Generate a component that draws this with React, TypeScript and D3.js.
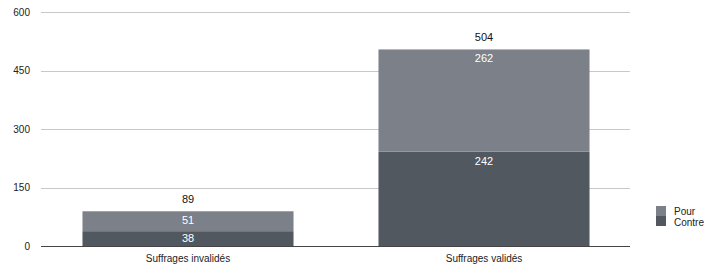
import { useEffect, useRef } from 'react';
import * as d3 from 'd3';

const categories = ['Suffrages invalidés', 'Suffrages validés'];
const contre = [38, 242];
const pour = [51, 262];
const totals = [89, 504];
const yTicks = [0, 150, 300, 450, 600];
const seriesNames = ['Pour', 'Contre'];
const seriesColors = ['#7b8089', '#525860'];

const App = () => {
  const ref = useRef<SVGSVGElement>(null);

  useEffect(() => {
    document.body.style.margin = '0';
    const svg = d3.select(ref.current);
    svg.selectAll('*').remove();

    const font = '"Liberation Sans", Arial, Helvetica, sans-serif';

    const x = d3.scaleBand().domain(categories).range([40, 632]).padding(0);
    const y = d3.scaleLinear().domain([0, 600]).range([246, 12]);
    const barW = x.bandwidth() * 0.713;

    // grid lines
    svg.append('g')
      .selectAll('line')
      .data(yTicks.filter(d => d > 0))
      .enter().append('line')
      .attr('x1', 41)
      .attr('x2', 630)
      .attr('y1', d => Math.round(y(d)) + 0.5)
      .attr('y2', d => Math.round(y(d)) + 0.5)
      .attr('stroke', '#c8c8c8')
      .attr('stroke-width', 1);

    // y tick labels
    svg.append('g')
      .selectAll('text')
      .data(yTicks)
      .enter().append('text')
      .attr('x', 30)
      .attr('y', d => y(d))
      .attr('dy', '0.35em')
      .attr('text-anchor', 'end')
      .attr('font-family', font)
      .attr('font-size', 10)
      .attr('fill', '#222')
      .text(d => d);

    const rows = categories.map((c, i) => ({ c, contre: contre[i], pour: pour[i], total: totals[i] }));

    // contre (bottom)
    svg.append('g')
      .selectAll('rect')
      .data(rows)
      .enter().append('rect')
      .attr('x', d => x(d.c)! + (x.bandwidth() - barW) / 2)
      .attr('width', barW)
      .attr('y', d => y(d.contre))
      .attr('height', d => y(0) - y(d.contre))
      .attr('fill', seriesColors[1]);

    // pour (top)
    svg.append('g')
      .selectAll('rect')
      .data(rows)
      .enter().append('rect')
      .attr('x', d => x(d.c)! + (x.bandwidth() - barW) / 2)
      .attr('width', barW)
      .attr('y', d => y(d.contre + d.pour))
      .attr('height', d => y(d.contre) - y(d.contre + d.pour))
      .attr('fill', seriesColors[0]);

    // baseline
    svg.append('line')
      .attr('x1', 41)
      .attr('x2', 630)
      .attr('y1', y(0) + 0.5)
      .attr('y2', y(0) + 0.5)
      .attr('stroke', '#444')
      .attr('stroke-width', 1);

    const cx = (c: string) => x(c)! + x.bandwidth() / 2;

    // segment labels
    const seg = svg.append('g')
      .attr('font-family', font)
      .attr('font-size', 11)
      .attr('fill', '#ffffff')
      .attr('text-anchor', 'middle');
    seg.selectAll('.pl')
      .data(rows)
      .enter().append('text')
      .attr('x', d => cx(d.c))
      .attr('y', d => y(d.contre + d.pour) + 9)
      .attr('dy', '0.35em')
      .text(d => d.pour);
    seg.selectAll('.cl')
      .data(rows)
      .enter().append('text')
      .attr('x', d => cx(d.c))
      .attr('y', d => Math.min(y(d.contre) + 10, (y(d.contre) + y(0)) / 2))
      .attr('dy', '0.35em')
      .text(d => d.contre);

    // totals
    svg.append('g')
      .selectAll('text')
      .data(rows)
      .enter().append('text')
      .attr('x', d => cx(d.c))
      .attr('y', d => y(d.total) - 12)
      .attr('dy', '0.35em')
      .attr('text-anchor', 'middle')
      .attr('font-family', font)
      .attr('font-size', 11)
      .attr('fill', '#111')
      .text(d => d.total);

    // x labels
    svg.append('g')
      .selectAll('text')
      .data(categories)
      .enter().append('text')
      .attr('x', d => cx(d))
      .attr('y', 258)
      .attr('dy', '0.35em')
      .attr('text-anchor', 'middle')
      .attr('font-family', font)
      .attr('font-size', 10)
      .attr('fill', '#222')
      .text(d => d);

    // legend
    const legend = svg.append('g');
    seriesNames.forEach((name, i) => {
      legend.append('rect')
        .attr('x', 656)
        .attr('y', 206 + i * 10)
        .attr('width', 10)
        .attr('height', 10)
        .attr('fill', seriesColors[i]);
      legend.append('text')
        .attr('x', 674)
        .attr('y', 211 + i * 11)
        .attr('dy', '0.35em')
        .attr('font-family', font)
        .attr('font-size', 10)
        .attr('fill', '#222')
        .text(name);
    });
  }, []);

  return <svg ref={ref} width={705} height={266} style={{ display: 'block' }} />;
};

export default App;
